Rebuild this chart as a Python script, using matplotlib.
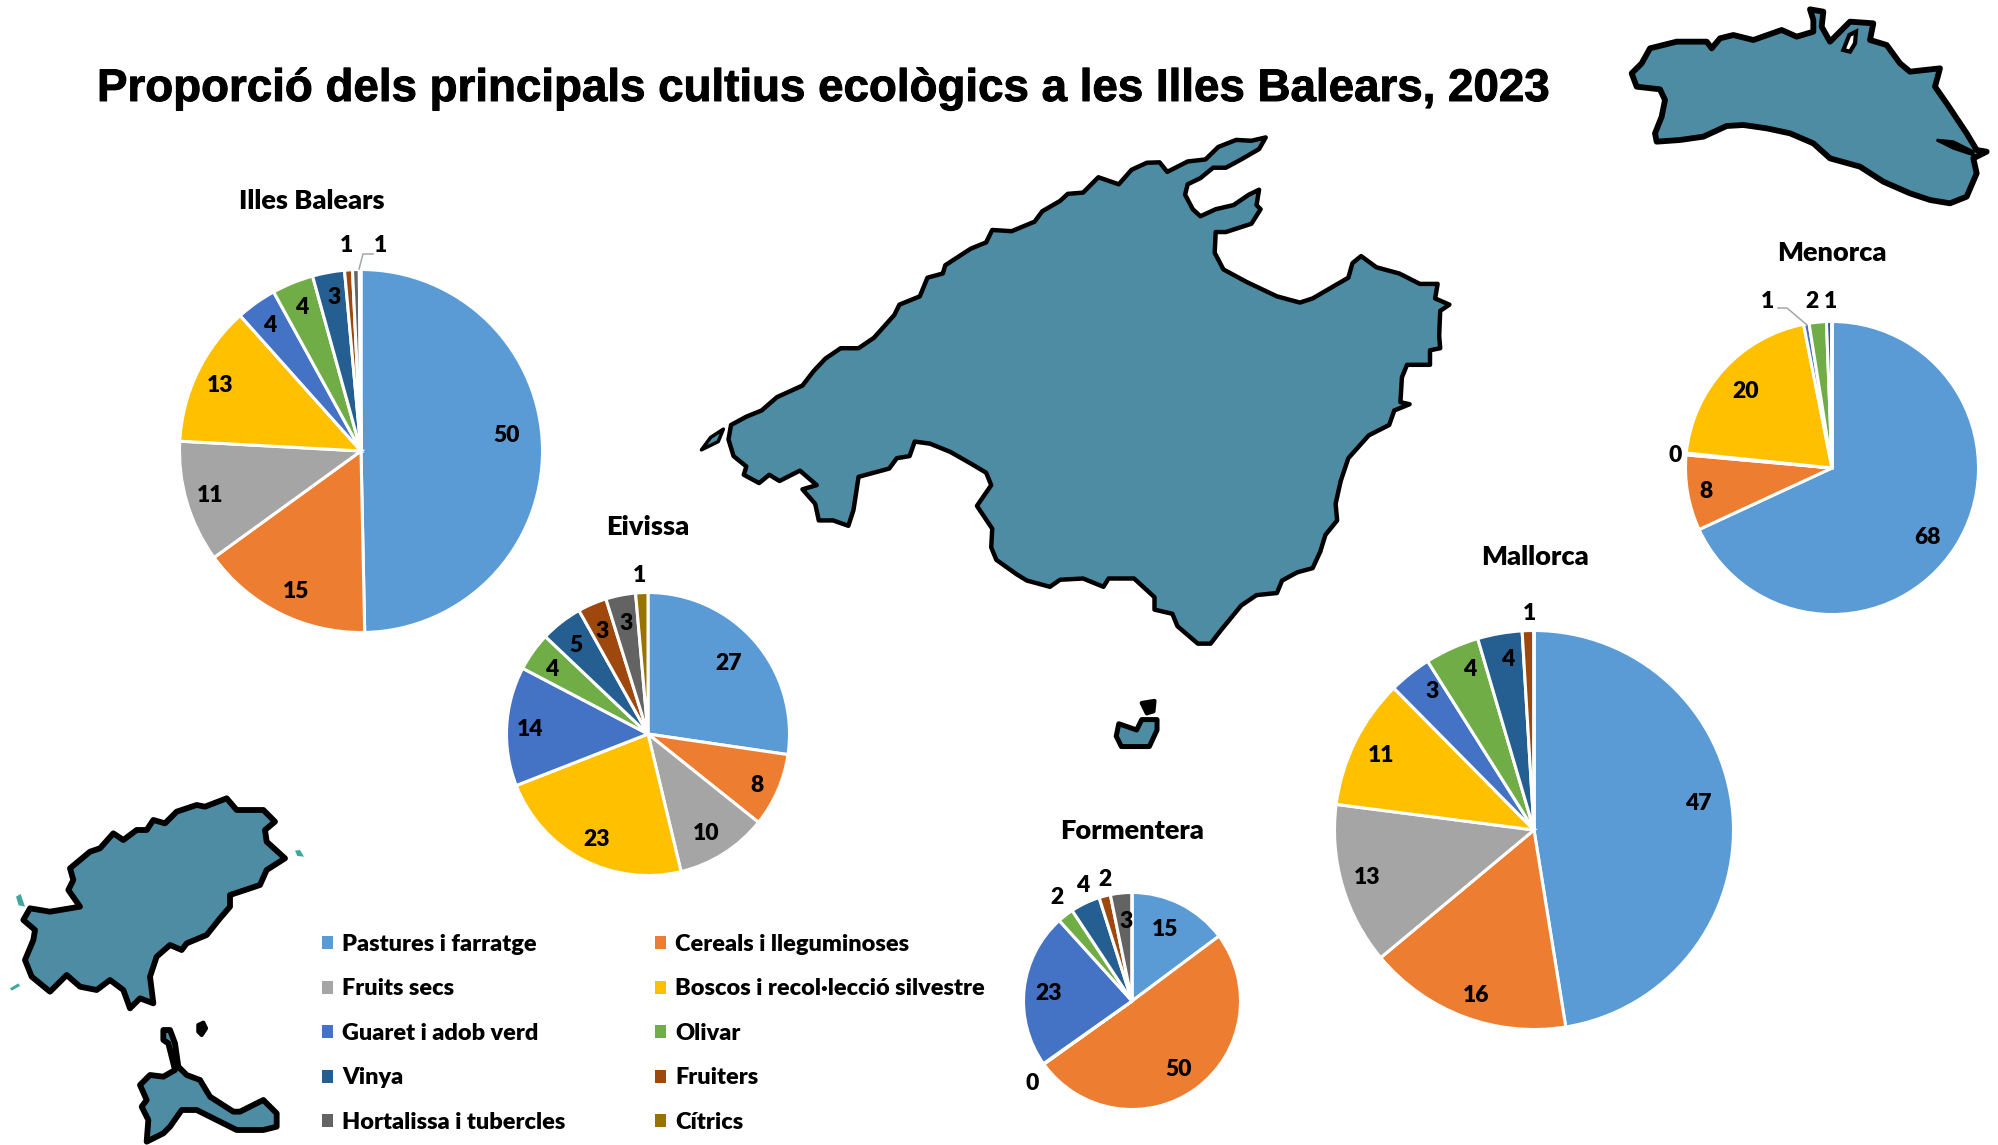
import matplotlib
matplotlib.use('Agg')
import numpy as np
import matplotlib.pyplot as plt
import matplotlib.patheffects as pe
from matplotlib.patches import Patch

W, H = 1999, 1145

# Categories and colours
categories = ['Pastures i farratge', 'Cereals i lleguminoses', 'Fruits secs',
              'Boscos i recol·lecció silvestre', 'Guaret i adob verd', 'Olivar',
              'Vinya', 'Fruiters', 'Hortalissa i tubercles', 'Cítrics']
colors = ['#5B9BD5', '#ED7D31', '#A5A5A5', '#FFC000', '#4472C4', '#70AD47',
          '#255E91', '#9E480E', '#636363', '#997300']

# Shares (slice angles), labels are these rounded
illes_balears = [49.7, 15.35, 10.85, 12.55, 3.6, 3.7, 2.85, 0.7, 0.6, 0.15]
eivissa = [27.3, 8.4, 10.5, 22.8, 13.6, 4.4, 4.8, 3.3, 3.4, 1.4]
mallorca = [47.45, 16.49, 13.1, 10.55, 3.45, 4.4, 3.6, 0.95, 0.0, 0.0]
menorca = [67.9, 8.3, 0.2, 20.2, 0.6, 1.9, 0.6, 0.0, 0.0, 0.0]
formentera = [14.8, 50.3, 0.1, 0.0, 23.1, 2.4, 4.4, 1.7, 3.2, 0.0]

# Pie placement in pixels: centre x, centre y, radius
pie_geom = {
    'Illes Balears': (361, 451, 181.5),
    'Eivissa': (648, 734, 141.5),
    'Mallorca': (1534, 830, 199.5),
    'Menorca': (1832, 468, 146.5),
    'Formentera': (1132, 1001, 108.5),
}
pie_values = {
    'Illes Balears': illes_balears,
    'Eivissa': eivissa,
    'Mallorca': mallorca,
    'Menorca': menorca,
    'Formentera': formentera,
}
title_pos = {
    'Illes Balears': (312, 201),
    'Eivissa': (648, 527),
    'Mallorca': (1535, 557),
    'Menorca': (1832, 253),
    'Formentera': (1132, 831),
}
# Where each value label sits: slice index -> pixel position
label_pos = {
    'Illes Balears': {0: (507, 436), 1: (296, 591), 2: (210, 495), 3: (220, 386), 4: (270, 325),
                      5: (302, 308), 6: (334, 297), 7: (347, 245), 8: (381, 246)},
    'Eivissa': {0: (729, 663), 1: (757, 786), 2: (706, 834), 3: (597, 839), 4: (530, 729),
                5: (552, 669), 6: (576, 645), 7: (602, 631), 8: (626, 623), 9: (640, 576)},
    'Mallorca': {0: (1698, 804), 1: (1476, 995), 2: (1367, 877), 3: (1381, 756), 4: (1432, 692),
                 5: (1470, 670), 6: (1508, 660), 7: (1530, 613)},
    'Menorca': {0: (1928, 538), 1: (1706, 492), 2: (1675, 456), 3: (1746, 391), 4: (1768, 302),
                5: (1812, 302), 6: (1831, 302)},
    'Formentera': {0: (1165, 930), 1: (1179, 1069), 2: (1032, 1084), 4: (1049, 993), 5: (1057, 898),
                   6: (1083, 886), 7: (1105, 880), 8: (1126, 921)},
}
leader_lines = [
    [(373, 254), (363, 254), (359, 269)],
    [(1778, 308), (1787, 308), (1807, 325)],
]

# Island outlines (crop coordinates, converted below)
mallorca_xy = [(100, 735), (130, 715), (160, 700), (190, 668), (240, 640), (262, 605), (285, 575), (315, 550),
               (350, 550), (380, 525), (420, 470), (430, 445), (470, 425), (485, 380), (515, 370), (520, 350),
               (570, 310), (600, 295), (612, 265), (650, 268), (695, 245), (710, 220), (745, 195), (760, 178),
               (790, 175), (820, 138), (860, 155), (885, 120), (915, 103), (940, 102), (955, 125), (995, 100),
               (1030, 95), (1055, 65), (1090, 48), (1120, 50), (1148, 42), (1135, 70), (1100, 95), (1070, 115),
               (1045, 115), (1020, 140), (995, 155), (990, 180), (1005, 215), (1020, 232), (1050, 215),
               (1085, 205), (1115, 180), (1135, 168), (1130, 205), (1138, 215), (1120, 250), (1070, 270),
               (1050, 270), (1048, 320), (1065, 360), (1110, 390), (1170, 425), (1215, 440), (1240, 430),
               (1310, 380), (1318, 345), (1335, 328), (1365, 355), (1410, 370), (1450, 395), (1485, 395),
               (1480, 430), (1508, 445), (1490, 460), (1488, 520), (1490, 550), (1470, 555), (1470, 590),
               (1425, 590), (1415, 620), (1412, 680), (1430, 685), (1400, 700), (1390, 735), (1350, 760),
               (1310, 815), (1295, 870), (1285, 925), (1288, 965), (1265, 1000), (1255, 1040), (1240, 1080),
               (1210, 1090), (1180, 1110), (1170, 1140), (1130, 1145), (1100, 1170), (1060, 1230), (1040, 1262),
               (1015, 1262), (975, 1220), (965, 1190), (930, 1180), (930, 1150), (890, 1105), (840, 1105),
               (830, 1125), (790, 1105), (745, 1108), (725, 1125), (680, 1110), (660, 1095), (620, 1060),
               (610, 1030), (612, 985), (582, 930), (610, 880), (600, 850), (570, 828), (530, 800), (490, 780),
               (460, 775), (450, 810), (425, 815), (410, 840), (350, 860), (345, 900), (340, 940), (330, 978),
               (300, 965), (272, 965), (265, 925), (240, 890), (268, 880), (235, 845), (195, 870), (175, 855),
               (155, 875), (125, 855), (130, 835), (105, 810), (95, 770)]
dragonera_xy = [(42, 795), (60, 765), (85, 745), (75, 775)]
cabrera_xy = [(860, 1455), (895, 1470), (905, 1445), (935, 1445), (935, 1470), (920, 1510), (865, 1510), (855, 1485)]
conills_xy = [(905, 1405), (930, 1400), (928, 1425), (915, 1430)]

menorca_xy = [(95, 220), (125, 190), (150, 145), (230, 125), (320, 125), (335, 145), (360, 115), (400, 105),
              (460, 120), (545, 90), (590, 110), (640, 95), (640, 60), (630, 28), (670, 35), (665, 80), (690, 125),
              (720, 95), (750, 65), (820, 70), (810, 120), (860, 135), (900, 190), (930, 215), (1020, 205),
              (1005, 260), (1040, 310), (1060, 340), (1100, 400), (1130, 450), (1160, 455), (1120, 475),
              (1130, 520), (1100, 590), (1050, 610), (990, 600), (930, 580), (850, 545), (780, 500), (690, 475),
              (640, 430), (570, 400), (500, 385), (430, 375), (380, 378), (310, 410), (240, 420), (170, 425),
              (165, 400), (185, 350), (195, 300), (180, 268), (110, 260)]
fornells_xy = [(730, 150), (748, 105), (768, 95), (765, 130), (750, 155)]
mao_xy = [(1010, 420), (1060, 425), (1120, 455), (1120, 465), (1060, 445)]

ibiza_xy = [(70, 420), (90, 385), (150, 395), (240, 380), (205, 330), (220, 300), (210, 265), (270, 215), (300, 205),
            (340, 160), (370, 180), (410, 150), (440, 150), (460, 120), (495, 130), (530, 95), (590, 75), (615, 80),
            (680, 55), (710, 90), (790, 90), (825, 125), (795, 150), (800, 185), (855, 235), (800, 270), (780, 315),
            (690, 345), (690, 380), (660, 415), (620, 465), (560, 490), (545, 510), (510, 495), (470, 530),
            (450, 590), (460, 670), (420, 655), (390, 685), (370, 630), (330, 600), (290, 630), (240, 620),
            (200, 585), (150, 635), (95, 590), (75, 540), (100, 480), (105, 450)]
formentera_xy = [(420, 915), (450, 885), (490, 890), (525, 870), (505, 790), (490, 780), (490, 750), (510, 750),
                 (525, 790), (535, 860), (560, 885), (600, 900), (630, 950), (700, 995), (720, 995), (790, 960),
                 (830, 1000), (830, 1040), (790, 1050), (710, 1050), (640, 1015), (590, 990), (545, 990), (510, 1040),
                 (490, 1060), (440, 1085), (445, 1020), (425, 980), (440, 960)]
espalmador_xy = [(595, 735), (610, 728), (618, 745), (605, 765), (595, 755)]
islet_xy = [[(885, 212), (900, 210), (912, 230), (892, 228)],
            [(48, 350), (62, 342), (75, 380), (56, 376)],
            [(30, 625), (55, 610), (60, 618), (35, 632)]]


def crop(points, x0, y0, sx, sy):
    pts = np.array(points, dtype=float)
    return x0 + pts[:, 0] / sx, y0 + pts[:, 1] / sy


fig = plt.figure(figsize=(W / 100, H / 100), dpi=100, facecolor='white')

ax_map = fig.add_axes([0, 0, 1, 1], zorder=0)
ax_map.set_xlim(0, W)
ax_map.set_ylim(H, 0)
ax_map.axis('off')

ax_txt = fig.add_axes([0, 0, 1, 1], zorder=5)
ax_txt.set_xlim(0, W)
ax_txt.set_ylim(H, 0)
ax_txt.axis('off')
ax_txt.patch.set_alpha(0)

sea = '#4D8CA3'
edge = '#000000'

# Islands
for pts, lw in [(mallorca_xy, 3.2), (dragonera_xy, 2.5), (cabrera_xy, 3.6)]:
    x, y = crop(pts, 680, 120, 1.96, 2.41)
    ax_map.fill(x, y, facecolor=sea, edgecolor=edge, linewidth=lw, joinstyle='round')
x, y = crop(conills_xy, 680, 120, 1.96, 2.41)
ax_map.fill(x, y, facecolor=edge, edgecolor=edge, linewidth=3, joinstyle='round')

x, y = crop(menorca_xy, 1600, 0, 3, 3)
ax_map.fill(x, y, facecolor=sea, edgecolor=edge, linewidth=4.2, joinstyle='round')
x, y = crop(fornells_xy, 1600, 0, 3, 3)
ax_map.fill(x, y, facecolor='white', edgecolor=edge, linewidth=3)
x, y = crop(mao_xy, 1600, 0, 3, 3)
ax_map.fill(x, y, facecolor=edge, edgecolor=edge, linewidth=2)

for pts in [ibiza_xy, formentera_xy]:
    x, y = crop(pts, 0, 780, 3, 3)
    ax_map.fill(x, y, facecolor=sea, edgecolor=edge, linewidth=4.2, joinstyle='round')
x, y = crop(espalmador_xy, 0, 780, 3, 3)
ax_map.fill(x, y, facecolor=edge, edgecolor=edge, linewidth=3, joinstyle='round')
for pts in islet_xy:
    x, y = crop(pts, 0, 780, 3, 3)
    ax_map.fill(x, y, facecolor='#3FA6A0', edgecolor='none')

# Pies
for name, (cx, cy, r) in pie_geom.items():
    ax = fig.add_axes([(cx - r - 4) / W, 1 - (cy + r + 4) / H, (2 * r + 8) / W, (2 * r + 8) / H], zorder=2)
    ax.pie(pie_values[name], colors=colors, startangle=90, counterclock=False,
           wedgeprops={'edgecolor': 'white', 'linewidth': 2.2})
    lim = (r + 4) / r
    ax.set_xlim(-lim, lim)
    ax.set_ylim(-lim, lim)
    ax.set_aspect('equal')

    tx, ty = title_pos[name]
    ax_txt.text(tx, ty, name, ha='center', va='center', fontsize=19.5, fontweight='heavy', family='Lato')
    for i, (lx, ly) in label_pos[name].items():
        ax_txt.text(lx, ly, f'{pie_values[name][i]:.0f}', ha='center', va='center',
                    fontsize=16.5, fontweight='heavy', family='Lato')

for line in leader_lines:
    xs, ys = zip(*line)
    ax_txt.plot(xs, ys, color='#A6A6A6', lw=1.1)

# Title
title = ax_txt.text(97, 89, 'Proporció dels principals cultius ecològics a les Illes Balears, 2023',
                    ha='left', va='center', fontsize=32.9, fontweight='bold', family='Liberation Sans')
title.set_path_effects([pe.withStroke(linewidth=0.7, foreground='black')])

# Legend, filled column first so the order is re-arranged to read by rows
handles = [Patch(facecolor=c, edgecolor='none') for c in colors]
order = [0, 2, 4, 6, 8, 1, 3, 5, 7, 9]
ax_txt.legend([handles[i] for i in order], [categories[i] for i in order], ncol=2,
              loc='upper left', bbox_to_anchor=(322, 934), bbox_transform=ax_txt.transData,
              frameon=False, borderpad=0, borderaxespad=0, handlelength=0.47, handleheight=0.47,
              handletextpad=0.38, columnspacing=3.83, labelspacing=1.0,
              prop={'family': 'Lato', 'weight': 'heavy', 'size': 16.9})

fig.savefig('out.png', dpi=100)
